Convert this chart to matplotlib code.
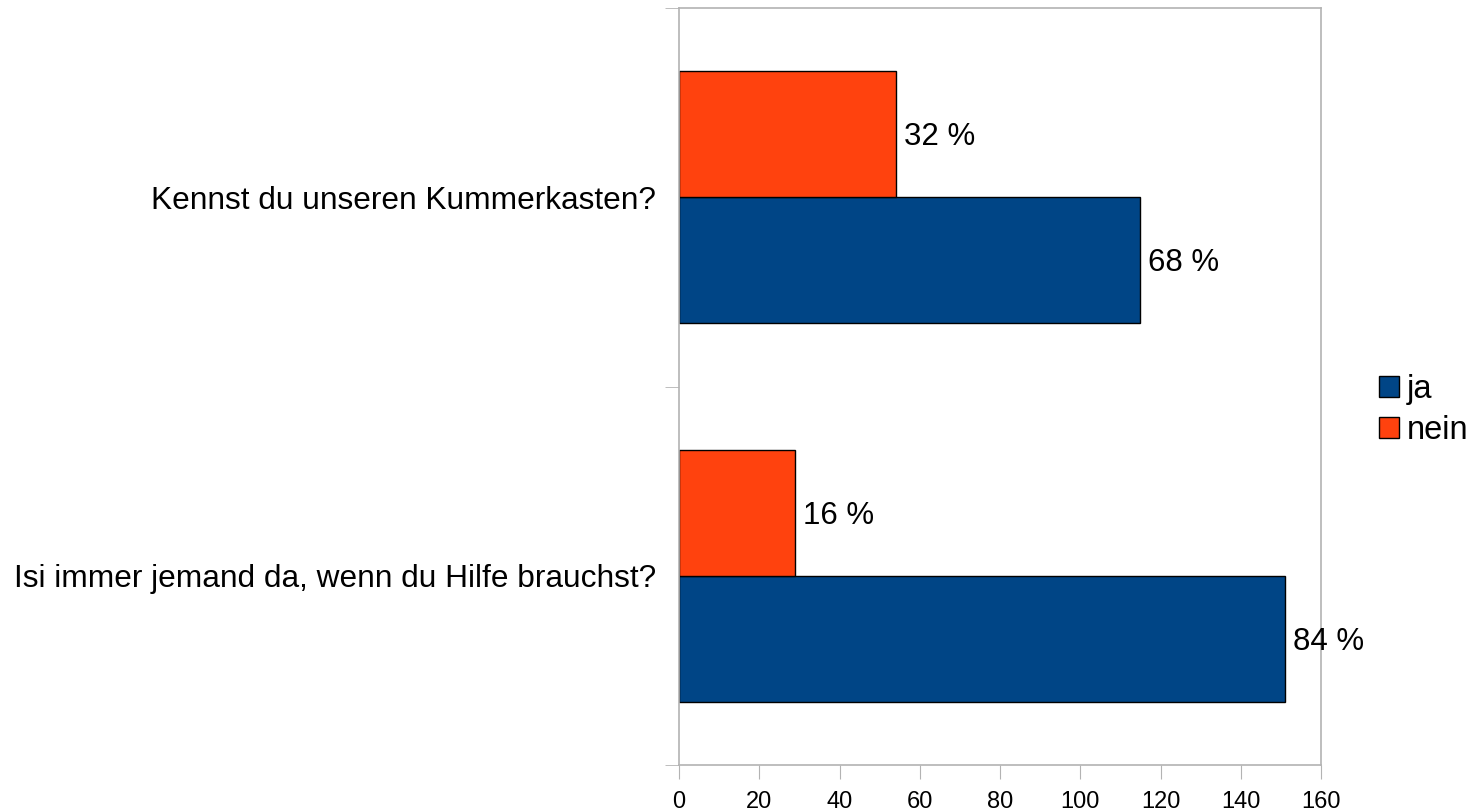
import matplotlib
matplotlib.use("Agg")
import matplotlib.pyplot as plt
from matplotlib.patches import Patch

plt.rcParams['font.family'] = ['Liberation Sans', 'DejaVu Sans']

# categories from bottom to top
questions = ['Isi immer jemand da, wenn du Hilfe brauchst?',
             'Kennst du unseren Kummerkasten?']
ja = [151, 115]
nein = [29, 54]
ja_labels = ['84 %', '68 %']
nein_labels = ['16 %', '32 %']

ja_color = '#004586'
nein_color = '#ff420e'
grey = '#b3b3b3'

fig = plt.figure(figsize=(14.74, 8.11), dpi=100)
ax = fig.add_axes([679 / 1474, 1 - 765 / 811, 642 / 1474, 757 / 811])

h = 1 / 3
pos = list(range(len(questions)))
ax.barh([p - h / 2 for p in pos], ja, height=h, color=ja_color,
        edgecolor='black', linewidth=1)
ax.barh([p + h / 2 for p in pos], nein, height=h, color=nein_color,
        edgecolor='black', linewidth=1)

for p, v, t in zip(pos, ja, ja_labels):
    ax.text(v + 2, p - h / 2 - 0.008, t, va='center', ha='left', fontsize=22.5)
for p, v, t in zip(pos, nein, nein_labels):
    ax.text(v + 2, p + h / 2 - 0.008, t, va='center', ha='left', fontsize=22.5)

ax.set_xlim(0, 160)
ax.set_ylim(-0.5, len(questions) - 0.5)
ax.set_xticks(range(0, 161, 20))
ax.tick_params(axis='x', labelsize=17, length=10, color=grey, pad=9)

ax.set_yticks(pos)
ax.set_yticklabels(questions, fontsize=22.8)
ax.tick_params(axis='y', which='major', length=0, pad=16.5)
ax.set_yticks([-0.5, 0.5, 1.5], minor=True)
ax.tick_params(axis='y', which='minor', length=10, color=grey)

for s in ax.spines.values():
    s.set_color(grey)
    s.set_linewidth(1.2)

handles = [Patch(facecolor=ja_color, edgecolor='black', label='ja'),
           Patch(facecolor=nein_color, edgecolor='black', label='nein')]
fig.legend(handles=handles, loc='center left', bbox_to_anchor=(1379 / 1474, 1 - 410 / 811),
           frameon=False, fontsize=23.5, handlelength=0.6, handleheight=0.6,
           handletextpad=0.25, labelspacing=0.3, borderaxespad=0, borderpad=0)

fig.savefig('out.png', dpi=100)
